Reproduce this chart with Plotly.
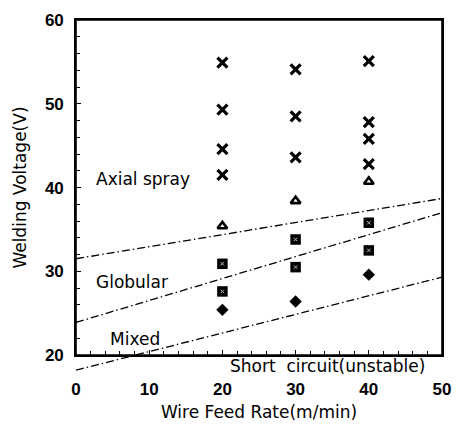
import plotly.graph_objects as go

# ---- data ----
x_ticks = [0, 10, 20, 30, 40, 50]
y_ticks = [20, 30, 40, 50, 60]

# Axial spray (x marks)
spray_x = [20, 20, 20, 20, 30, 30, 30, 40, 40, 40, 40]
spray_y = [54.9, 49.3, 44.6, 41.5, 54.1, 48.5, 43.6, 55.1, 47.8, 45.8, 42.8]
# transition (open triangles)
tri_x = [20, 30, 40]
tri_y = [35.4, 38.4, 40.7]
# Globular (hatched squares)
glob_x = [20, 20, 30, 30, 40, 40]
glob_y = [30.9, 27.6, 33.8, 30.5, 35.8, 32.5]
# Mixed (diamonds)
mix_x = [20, 30, 40]
mix_y = [25.4, 26.4, 29.6]

# boundary lines (end points)
b1_x, b1_y = [0, 50], [31.5, 38.7]
b2_x, b2_y = [0, 50], [23.9, 37.0]
b3_x, b3_y = [0, 50], [18.2, 29.3]

labels = ["Axial spray", "Globular", "Mixed"]
label_x = [9.2, 7.6, 8.1]
label_y = [41.0, 28.7, 21.9]
sc_label, sc_x, sc_y = "Short  circuit(unstable)", 34.3, 18.7

FONT = "DejaVu Sans"
TICKFONT = "Liberation Sans"
W, H = 462, 430
ML, MR, MT, MB = 76, 11, 14, 40
EXTRA = 26  # px below the frame where boundary line 3 continues
plot_h = H - MT - MB
main_h = plot_h - EXTRA
ylo, yhi = 20, 60
yext = ylo - (yhi - ylo) * EXTRA / main_h

dash = "8px,3px,1.5px,3px"
line_style = dict(color="black", width=1.3, dash=dash)

fig = go.Figure()
fig.add_trace(go.Scatter(x=b1_x, y=b1_y, mode="lines", line=line_style,
                         hoverinfo="skip", showlegend=False))
fig.add_trace(go.Scatter(x=b2_x, y=b2_y, mode="lines", line=line_style,
                         hoverinfo="skip", showlegend=False))
# third boundary continues below the frame: drawn on an extended, hidden y axis
fig.add_trace(go.Scatter(x=b3_x, y=b3_y, mode="lines", line=line_style,
                         xaxis="x2", yaxis="y2", hoverinfo="skip", showlegend=False))

fig.add_trace(go.Scatter(x=spray_x, y=spray_y, mode="markers",
                         marker=dict(symbol="x-thin", size=10, color="black",
                                     line=dict(color="black", width=3.2)),
                         showlegend=False))
fig.add_trace(go.Scatter(x=tri_x, y=tri_y, mode="markers",
                         marker=dict(symbol="triangle-up-open", size=8.5, color="black",
                                     line=dict(color="black", width=2.6)),
                         showlegend=False))
fig.add_trace(go.Scatter(x=glob_x, y=glob_y, mode="markers",
                         marker=dict(symbol="square", size=10.5, color="black",
                                     line=dict(width=0)),
                         showlegend=False))
fig.add_trace(go.Scatter(x=glob_x, y=glob_y, mode="markers",
                         marker=dict(symbol="x-thin", size=3.5, color="white",
                                     line=dict(color="#bbbbbb", width=1)),
                         hoverinfo="skip", showlegend=False))
fig.add_trace(go.Scatter(x=mix_x, y=mix_y, mode="markers",
                         marker=dict(symbol="diamond", size=9.5, color="black",
                                     line=dict(width=0)),
                         showlegend=False))

for t, lx, ly in zip(labels, label_x, label_y):
    fig.add_annotation(x=lx, y=ly, text=t, showarrow=False, xanchor="center",
                       yanchor="middle", font=dict(family=FONT, size=17, color="black"))
fig.add_annotation(x=sc_x, y=sc_y, xref="x2", yref="y2", text=sc_label, showarrow=False,
                   xanchor="center", yanchor="middle",
                   font=dict(family=FONT, size=17, color="black"))

# plot frame (domain referenced, so it is never clipped)
fig.add_shape(type="rect", xref="x domain", yref="y domain", x0=0, x1=1, y0=0, y1=1,
              line=dict(color="black", width=1.6), fillcolor="rgba(0,0,0,0)",
              layer="above")

axis_common = dict(ticks="inside", ticklen=5, tickwidth=1.2, tickcolor="black",
                   showline=True, linecolor="black", linewidth=1.6, mirror=True,
                   showgrid=False, zeroline=False)
tickfont = dict(family=TICKFONT, size=17, weight="bold", color="black")

fig.update_layout(
    width=W, height=H,
    margin=dict(l=ML, r=MR, t=MT, b=MB),
    paper_bgcolor="white", plot_bgcolor="rgba(0,0,0,0)",
    font=dict(family=FONT, size=15, color="black"),
    xaxis=dict(range=[0, 50], tickvals=x_ticks, ticktext=[str(v) for v in x_ticks],
               minor=dict(dtick=2, ticks="inside", ticklen=4, tickcolor="black", tickwidth=1),
               ticklabelstandoff=18, tickfont=tickfont,
               title=dict(text="Wire Feed Rate(m/min)", standoff=8,
                          font=dict(family=FONT, size=17)),
               anchor="y", **axis_common),
    yaxis=dict(range=[ylo, yhi], tickvals=y_ticks, ticktext=[str(v) for v in y_ticks],
               domain=[EXTRA / plot_h, 1],
               minor=dict(dtick=2, ticks="inside", ticklen=4, tickcolor="black", tickwidth=1),
               ticklabelstandoff=7, tickfont=tickfont,
               title=dict(text="Welding Voltage(V)", standoff=14,
                          font=dict(family=FONT, size=17)),
               anchor="x", **axis_common),
    xaxis2=dict(range=[0, 50], domain=[0, 1], visible=False, anchor="y2",
                showgrid=False, zeroline=False),
    yaxis2=dict(range=[yext, yhi], domain=[0, 1], visible=False, anchor="x2",
                showgrid=False, zeroline=False),
)

fig.write_html("out.html", config={"displayModeBar": False},
               post_script="document.body.style.margin='0px';")
